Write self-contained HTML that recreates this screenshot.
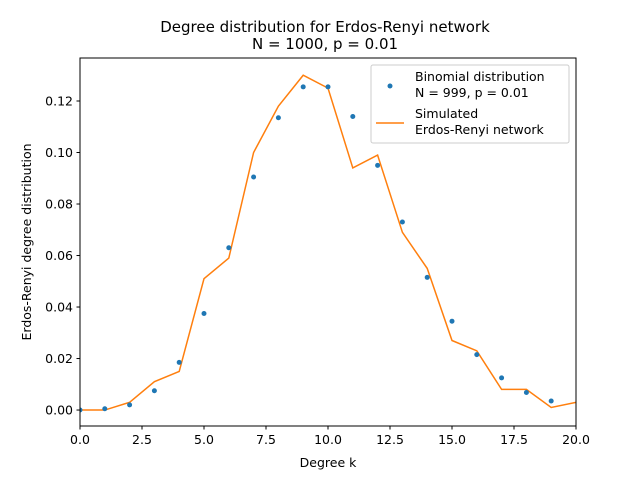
<!DOCTYPE html>
<html><head><meta charset="utf-8"><style>
body{margin:0;background:#fff;font-family:"Liberation Sans","DejaVu Sans",sans-serif;}
svg text{font-family:"DejaVu Sans","Liberation Sans",sans-serif;}
</style></head><body>
<svg id="c" width="640" height="480" xmlns="http://www.w3.org/2000/svg"></svg>
<script>
const binomK=[0,1,2,3,4,5,6,7,8,9,10,11,12,13,14,15,16,17,18,19];
const binomP=[0,0.0005,0.002,0.0075,0.0185,0.0375,0.063,0.0905,0.1135,0.1255,0.1255,0.114,0.095,0.073,0.0515,0.0345,0.0215,0.0125,0.0068,0.0035];
const simK=[0,1,2,3,4,5,6,7,8,9,10,11,12,13,14,15,16,17,18,19,20];
const simP=[0,0,0.003,0.011,0.015,0.051,0.059,0.100,0.118,0.130,0.125,0.094,0.099,0.069,0.055,0.027,0.023,0.008,0.008,0.001,0.003];
const xTicks=[0,2.5,5,7.5,10,12.5,15,17.5,20];
const xLabels=["0.0","2.5","5.0","7.5","10.0","12.5","15.0","17.5","20.0"];
const yTicks=[0,0.02,0.04,0.06,0.08,0.10,0.12];
const yLabels=["0.00","0.02","0.04","0.06","0.08","0.10","0.12"];
const L=80,R=576,T=58,B=426,xmin=0,xmax=20,ymin=-0.0062,ymax=0.1367;
const X=v=>L+(v-xmin)/(xmax-xmin)*(R-L);
const Y=v=>B-(v-ymin)/(ymax-ymin)*(B-T);
const svg=document.getElementById('c');
const NS='http://www.w3.org/2000/svg';
function mk(t,a,p){const e=document.createElementNS(NS,t);for(const k in a)e.setAttribute(k,a[k]);(p||svg).appendChild(e);return e;}
let e;
const defs=mk('defs',{});const cp=mk('clipPath',{id:'clip'},defs);mk('rect',{x:L,y:T,width:R-L,height:B-T},cp);
e=mk('polyline',{points:simK.map((k,i)=>X(k)+','+Y(simP[i])).join(' '),fill:'none',stroke:'#ff7f0e','stroke-width':1.5,'clip-path':'url(#clip)'});


binomK.forEach((k,i)=>{
  const d=mk('circle',{cx:X(k),cy:Y(binomP[i]),r:2.5,fill:'#1f77b4','clip-path':'url(#clip)'});
  
  
});
e=mk('rect',{x:L,y:T,width:R-L,height:B-T,fill:'none',stroke:'#000','stroke-width':1});


xTicks.forEach((v,i)=>{
  mk('line',{x1:X(v),x2:X(v),y1:B,y2:B+3.5,stroke:'#000'});
  const t=mk('text',{x:X(v),y:B+18,'font-size':12.5,'text-anchor':'middle'});t.textContent=xLabels[i];
  
  
});
yTicks.forEach((v,i)=>{
  mk('line',{x1:L-3.5,x2:L,y1:Y(v),y2:Y(v),stroke:'#000'});
  const t=mk('text',{x:L-7,y:Y(v)+4.5,'font-size':12.5,'text-anchor':'end'});t.textContent=yLabels[i];
  
  
});
e=mk('text',{x:328,y:467,'font-size':12.5,'text-anchor':'middle'});e.textContent='Degree k';


e=mk('text',{x:0,y:0,'font-size':12.5,'text-anchor':'middle',transform:'translate(31,242) rotate(-90)'});e.textContent='Erdos-Renyi degree distribution';


e=mk('text',{x:325,y:32,'font-size':15,'text-anchor':'middle'});e.textContent='Degree distribution for Erdos-Renyi network';


e=mk('text',{x:325,y:49,'font-size':15,'text-anchor':'middle'});e.textContent='N = 1000, p = 0.01';


const g=mk('g',{});


mk('rect',{x:371,y:65,width:198,height:78,rx:2,fill:'#fff',stroke:'#ccc','fill-opacity':0.8},g);
mk('circle',{cx:390,cy:86,r:2.5,fill:'#1f77b4'},g);
mk('line',{x1:376,x2:404,y1:123,y2:123,stroke:'#ff7f0e','stroke-width':1.5},g);
[['Binomial distribution',81],['N = 999, p = 0.01',97],['Simulated',118],['Erdos-Renyi network',134]].forEach(([s,y])=>{
  const t=mk('text',{x:415,y:y,'font-size':12.5},g);t.textContent=s;
  
  
});
</script>
</body></html>
